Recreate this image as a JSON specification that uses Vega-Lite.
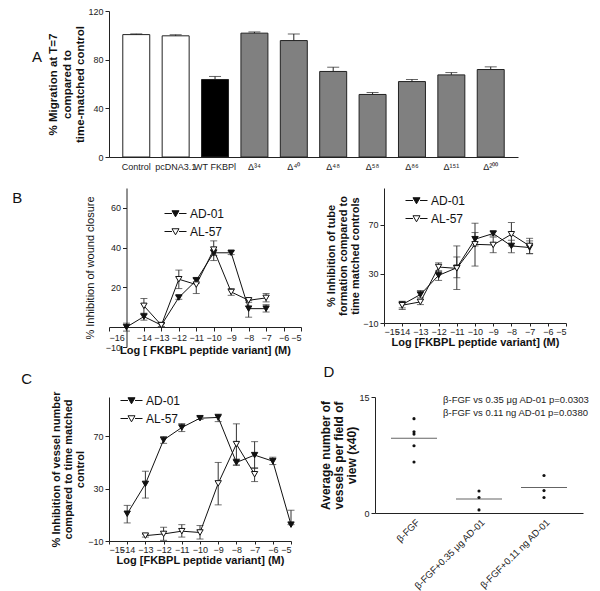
{
  "$schema": "https://vega.github.io/schema/vega-lite/v6.json",
  "background": "white",
  "padding": {"left": 12, "top": 7, "right": 4, "bottom": 2},
  "config": {
    "font": "Liberation Sans",
    "view": {"stroke": null},
    "axis": {"grid": false, "domainColor": "#222", "tickColor": "#222", "labelColor": "#222", "titleColor": "#111", "labelFontSize": 9, "tickSize": 4, "labelPadding": 2, "labelOverlap": false, "titleFontWeight": "bold", "titleFontSize": 11, "titleLineHeight": 12.3},
    "title": {"fontSize": 15, "fontWeight": "normal", "color": "#111", "anchor": "start", "frame": "bounds", "offset": 0},
    "legend": {"labelFontSize": 12, "labelColor": "#111", "padding": 0, "rowPadding": 1, "labelOffset": 3}
  },
  "datasets": {
    "bars": [
      {"cond": "Control", "type": "control", "v": 100.6, "hi": 101.2},
      {"cond": "pcDNA3.1", "type": "control", "v": 99.6, "hi": 100.5},
      {"cond": "WT FKBPl", "type": "wt", "v": 63.7, "hi": 66.2},
      {"cond": "Δ³⁴", "type": "deletion", "v": 101.8, "hi": 102.8},
      {"cond": "Δ⁴⁰", "type": "deletion", "v": 95.7, "hi": 101.1},
      {"cond": "Δ⁴⁸", "type": "deletion", "v": 70.3, "hi": 73.8},
      {"cond": "Δ⁵⁸", "type": "deletion", "v": 51.4, "hi": 53.0},
      {"cond": "Δ⁸⁶", "type": "deletion", "v": 62.0, "hi": 63.7},
      {"cond": "Δ¹⁵¹", "type": "deletion", "v": 67.5, "hi": 69.4},
      {"cond": "Δ²⁰⁰", "type": "deletion", "v": 71.9, "hi": 74.1}
    ],
    "wound": [
      {"series": "AD-01", "x": -15, "y": 0, "lo": -2, "hi": 2},
      {"series": "AD-01", "x": -14, "y": 5.3, "lo": 3.5, "hi": 7},
      {"series": "AD-01", "x": -13, "y": 1, "lo": 0, "hi": 2},
      {"series": "AD-01", "x": -12, "y": 14.9, "lo": 14, "hi": 15.8},
      {"series": "AD-01", "x": -11, "y": 23.5, "lo": 22, "hi": 25},
      {"series": "AD-01", "x": -10, "y": 37.4, "lo": 36, "hi": 39},
      {"series": "AD-01", "x": -9, "y": 37.4, "lo": 36.5, "hi": 38.3},
      {"series": "AD-01", "x": -8, "y": 9.3, "lo": 5, "hi": 13.5},
      {"series": "AD-01", "x": -7, "y": 9.3, "lo": 7.6, "hi": 11.3},
      {"series": "AL-57", "x": -14, "y": 10.7, "lo": 6.5, "hi": 14.4},
      {"series": "AL-57", "x": -13, "y": 1, "lo": 0.3, "hi": 1.7},
      {"series": "AL-57", "x": -12, "y": 24.1, "lo": 19.4, "hi": 28.7},
      {"series": "AL-57", "x": -11, "y": 21.4, "lo": 16.9, "hi": 24.5},
      {"series": "AL-57", "x": -10, "y": 39, "lo": 33.5, "hi": 43.4},
      {"series": "AL-57", "x": -9, "y": 17.7, "lo": 16, "hi": 19.4},
      {"series": "AL-57", "x": -8, "y": 13.5, "lo": 12.5, "hi": 14.5},
      {"series": "AL-57", "x": -7, "y": 14.7, "lo": 12.7, "hi": 16.9}
    ],
    "tube": [
      {"series": "AD-01", "x": -14, "y": 5.0, "lo": 1, "hi": 7.7},
      {"series": "AD-01", "x": -13, "y": 13.2, "lo": 10.5, "hi": 16.5},
      {"series": "AD-01", "x": -12, "y": 28.8, "lo": 24.7, "hi": 32.3},
      {"series": "AD-01", "x": -11, "y": 35, "lo": 26.9, "hi": 43.8},
      {"series": "AD-01", "x": -10, "y": 58.3, "lo": 52.8, "hi": 63.7},
      {"series": "AD-01", "x": -9, "y": 62.9, "lo": 61, "hi": 64.5},
      {"series": "AD-01", "x": -8, "y": 52.8, "lo": 47.3, "hi": 57.4},
      {"series": "AD-01", "x": -7, "y": 51.5, "lo": 46.5, "hi": 56.9},
      {"series": "AL-57", "x": -14, "y": 4.5, "lo": 2.3, "hi": 6.4},
      {"series": "AL-57", "x": -13, "y": 7.2, "lo": 5, "hi": 9.1},
      {"series": "AL-57", "x": -12, "y": 35.6, "lo": 32.3, "hi": 39},
      {"series": "AL-57", "x": -11, "y": 34.5, "lo": 17.3, "hi": 52.8},
      {"series": "AL-57", "x": -10, "y": 54.1, "lo": 36.4, "hi": 71.3},
      {"series": "AL-57", "x": -9, "y": 53.6, "lo": 47.3, "hi": 60},
      {"series": "AL-57", "x": -8, "y": 62.3, "lo": 52.8, "hi": 71.9},
      {"series": "AL-57", "x": -7, "y": 52.8, "lo": 46.5, "hi": 59}
    ],
    "vessel": [
      {"series": "AD-01", "x": -14, "y": 10.8, "lo": 3.8, "hi": 17.2},
      {"series": "AD-01", "x": -13, "y": 33.6, "lo": 22.8, "hi": 43.3},
      {"series": "AD-01", "x": -12, "y": 67.2, "lo": 64.6, "hi": 69.7},
      {"series": "AD-01", "x": -11, "y": 76.7, "lo": 73.6, "hi": 79.7},
      {"series": "AD-01", "x": -10, "y": 83.8, "lo": 82.8, "hi": 84.9},
      {"series": "AD-01", "x": -9, "y": 84.4, "lo": 81.2, "hi": 86.9},
      {"series": "AD-01", "x": -8, "y": 50, "lo": 47.9, "hi": 52.6},
      {"series": "AD-01", "x": -7, "y": 55.6, "lo": 45.4, "hi": 65.9},
      {"series": "AD-01", "x": -6, "y": 51, "lo": 48.4, "hi": 54},
      {"series": "AD-01", "x": -5, "y": 2.5, "lo": 2.5, "hi": 13.5},
      {"series": "AL-57", "x": -13, "y": -5.9, "lo": -7, "hi": -4.8},
      {"series": "AL-57", "x": -12, "y": -4.6, "lo": -9.5, "hi": 0.5},
      {"series": "AL-57", "x": -11, "y": -2.5, "lo": -7, "hi": 2.5},
      {"series": "AL-57", "x": -10, "y": -3.5, "lo": -8.5, "hi": 1.8},
      {"series": "AL-57", "x": -9, "y": 34, "lo": 17.6, "hi": 50},
      {"series": "AL-57", "x": -8, "y": 64, "lo": 48, "hi": 79.5},
      {"series": "AL-57", "x": -7, "y": 41, "lo": 35.4, "hi": 46}
    ],
    "vessels": [
      {"group": "β-FGF", "v": 12.2},
      {"group": "β-FGF", "v": 10.5},
      {"group": "β-FGF", "v": 10.2},
      {"group": "β-FGF", "v": 8.7},
      {"group": "β-FGF", "v": 6.6},
      {"group": "β-FGF+0.35 μg AD-01", "v": 2.85},
      {"group": "β-FGF+0.35 μg AD-01", "v": 2.0},
      {"group": "β-FGF+0.35 μg AD-01", "v": 0.4},
      {"group": "β-FGF+0.11 ng AD-01", "v": 4.85},
      {"group": "β-FGF+0.11 ng AD-01", "v": 2.9},
      {"group": "β-FGF+0.11 ng AD-01", "v": 2.0}
    ],
    "means": [
      {"group": "β-FGF", "v": 9.65},
      {"group": "β-FGF+0.35 μg AD-01", "v": 1.8},
      {"group": "β-FGF+0.11 ng AD-01", "v": 3.3}
    ]
  },
  "resolve": {"scale": {"fill": "independent"}, "legend": {"fill": "independent"}},
  "spacing": 17,
  "vconcat": [
    {
      "width": 409, "height": 146,
      "title": {"text": "A", "dx": -16, "dy": 62},
      "data": {"name": "bars"},
      "encoding": {
        "x": {"field": "cond", "type": "nominal", "sort": null, "scale": {"paddingInner": 0.315, "paddingOuter": 0.35}, "axis": {"title": null, "labelAngle": 0, "ticks": false, "labelOverlap": false, "labelPadding": 5, "labelFontSize": 9}}
      },
      "layer": [
        {"mark": {"type": "bar", "stroke": "#222", "strokeWidth": 1},
         "encoding": {
           "y": {"field": "v", "type": "quantitative", "scale": {"domain": [0, 120]}, "axis": {"values": [0, 20, 40, 60, 80, 100, 120], "title": ["% Migration at T=7", "compared to", "time-matched control"], "titleFontSize": 11.5, "titleLineHeight": 13.5, "titlePadding": 2}},
           "fill": {"field": "type", "type": "nominal", "scale": {"domain": ["control", "wt", "deletion"], "range": ["#ffffff", "#000000", "#808080"]}, "legend": null}
         }},
        {"mark": {"type": "rule", "color": "#222"}, "encoding": {"y": {"field": "v", "type": "quantitative"}, "y2": {"field": "hi"}}},
        {"mark": {"type": "tick", "orient": "horizontal", "color": "#222", "size": 12, "thickness": 1}, "encoding": {"y": {"field": "hi", "type": "quantitative"}}}
      ]
    },
    {
      "spacing": 10,
      "resolve": {"scale": {"fill": "independent"}, "legend": {"fill": "independent"}},
      "vconcat": [
        {
          "hconcat": [
            {
              "width": 192, "height": 159,
              "title": {"text": "B", "dx": -72, "dy": 22},
              "data": {"name": "wound"},
              "encoding": {"x": {"field": "x", "type": "quantitative", "scale": {"domain": [-16, -5], "nice": false, "zero": false}, "axis": {"values": [-16, -14, -13, -12, -11, -10, -9, -8, -7, -6, -5], "offset": -20, "title": "Log [ FKBPL peptide variant] (M)", "titlePadding": 2}}},
              "layer": [
                {"mark": {"type": "rule", "color": "#333"}, "encoding": {"y": {"field": "lo", "type": "quantitative", "scale": {"domain": [-10, 70], "nice": false}, "axis": {"values": [-10, 10, 20, 30, 40, 50, 60, 70], "offset": -17.5, "title": "% Inhibition of wound closure", "titleFontWeight": "normal", "titleFontSize": 11, "titlePadding": 10}}, "y2": {"field": "hi"}}},
                {"mark": {"type": "tick", "orient": "horizontal", "color": "#333", "size": 7, "thickness": 1}, "encoding": {"y": {"field": "lo", "type": "quantitative"}}},
                {"mark": {"type": "tick", "orient": "horizontal", "color": "#333", "size": 7, "thickness": 1}, "encoding": {"y": {"field": "hi", "type": "quantitative"}}},
                {"mark": {"type": "line", "color": "#111", "strokeWidth": 1}, "encoding": {"y": {"field": "y", "type": "quantitative"}, "detail": {"field": "series"}}},
                {"mark": {"type": "point", "shape": "triangle-down", "size": 40, "filled": true, "stroke": "#111", "strokeWidth": 1, "opacity": 1},
                 "encoding": {"y": {"field": "y", "type": "quantitative"},
                   "fill": {"field": "series", "type": "nominal", "scale": {"domain": ["AD-01", "AL-57"], "range": ["#111111", "#ffffff"]},
                     "legend": {"title": null, "orient": "none", "legendX": 55, "legendY": 14, "symbolType": "M-1,0L-0.32,0M0.32,0L1,0M-0.32,-0.25L0.32,-0.25L0,0.3Z", "symbolSize": 484, "symbolStrokeColor": "#111", "symbolStrokeWidth": 1, "rowPadding": -11}}}}
              ]
            },
            {
              "width": 182, "height": 135,
              "data": {"name": "tube"},
              "encoding": {"x": {"field": "x", "type": "quantitative", "scale": {"domain": [-15, -5], "nice": false, "zero": false}, "axis": {"values": [-15, -14, -13, -12, -11, -10, -9, -8, -7, -6, -5], "title": "Log [FKBPL peptide variant] (M)", "titlePadding": 0, "tickSize": 3, "labelPadding": 1}}},
              "layer": [
                {"mark": {"type": "rule", "color": "#333"}, "encoding": {"y": {"field": "lo", "type": "quantitative", "scale": {"domain": [-10, 100], "nice": false}, "axis": {"values": [-10, 0, 10, 20, 30, 40, 50, 60, 70, 80, 90, 100], "title": ["% Inhibition of tube", "formation compared to", "time matched controls"], "titlePadding": 2}}, "y2": {"field": "hi"}}},
                {"mark": {"type": "tick", "orient": "horizontal", "color": "#333", "size": 7, "thickness": 1}, "encoding": {"y": {"field": "lo", "type": "quantitative"}}},
                {"mark": {"type": "tick", "orient": "horizontal", "color": "#333", "size": 7, "thickness": 1}, "encoding": {"y": {"field": "hi", "type": "quantitative"}}},
                {"mark": {"type": "line", "color": "#111", "strokeWidth": 1}, "encoding": {"y": {"field": "y", "type": "quantitative"}, "detail": {"field": "series"}}},
                {"mark": {"type": "point", "shape": "triangle-down", "size": 40, "filled": true, "stroke": "#111", "strokeWidth": 1, "opacity": 1},
                 "encoding": {"y": {"field": "y", "type": "quantitative"},
                   "fill": {"field": "series", "type": "nominal", "scale": {"domain": ["AD-01", "AL-57"], "range": ["#111111", "#ffffff"]},
                     "legend": {"title": null, "orient": "none", "legendX": 21, "legendY": 1, "symbolType": "M-1,0L-0.32,0M0.32,0L1,0M-0.32,-0.25L0.32,-0.25L0,0.3Z", "symbolSize": 484, "symbolStrokeColor": "#111", "symbolStrokeWidth": 1, "rowPadding": -8}}}}
              ]
            }
          ],
          "spacing": 23,
          "resolve": {"scale": {"fill": "independent"}, "legend": {"fill": "independent"}}
        },
        {
          "hconcat": [
            {
              "width": 182, "height": 144,
              "title": {"text": "C", "dx": -29, "dy": 2},
              "data": {"name": "vessel"},
              "encoding": {"x": {"field": "x", "type": "quantitative", "scale": {"domain": [-15, -5], "nice": false, "zero": false}, "axis": {"values": [-15, -14, -13, -12, -11, -10, -9, -8, -7, -6, -5], "title": "Log [FKBPL peptide variant] (M)", "titlePadding": 0, "tickSize": 3, "labelPadding": 1}}},
              "layer": [
                {"mark": {"type": "rule", "color": "#333"}, "encoding": {"y": {"field": "lo", "type": "quantitative", "scale": {"domain": [-10, 100], "nice": false}, "axis": {"values": [-10, 0, 10, 20, 30, 40, 50, 60, 70, 80, 90, 100], "title": ["% Inhibition of vessel number", "compared to time matched", "control"], "titlePadding": 2}}, "y2": {"field": "hi"}}},
                {"mark": {"type": "tick", "orient": "horizontal", "color": "#333", "size": 7, "thickness": 1}, "encoding": {"y": {"field": "lo", "type": "quantitative"}}},
                {"mark": {"type": "tick", "orient": "horizontal", "color": "#333", "size": 7, "thickness": 1}, "encoding": {"y": {"field": "hi", "type": "quantitative"}}},
                {"mark": {"type": "line", "color": "#111", "strokeWidth": 1}, "encoding": {"y": {"field": "y", "type": "quantitative"}, "detail": {"field": "series"}}},
                {"mark": {"type": "point", "shape": "triangle-down", "size": 40, "filled": true, "stroke": "#111", "strokeWidth": 1, "opacity": 1},
                 "encoding": {"y": {"field": "y", "type": "quantitative"},
                   "fill": {"field": "series", "type": "nominal", "scale": {"domain": ["AD-01", "AL-57"], "range": ["#111111", "#ffffff"]},
                     "legend": {"title": null, "orient": "none", "legendX": 11, "legendY": -8, "symbolType": "M-1,0L-0.32,0M0.32,0L1,0M-0.32,-0.25L0.32,-0.25L0,0.3Z", "symbolSize": 484, "symbolStrokeColor": "#111", "symbolStrokeWidth": 1, "rowPadding": -8}}}}
              ]
            },
            {
              "width": 208, "height": 116,
              "title": {"text": "D", "dx": 4, "dy": -9},
              "layer": [
                {"data": {"name": "vessels"}, "mark": {"type": "circle", "size": 10, "color": "#111", "opacity": 1},
                 "encoding": {
                   "x": {"field": "group", "type": "nominal", "sort": ["β-FGF", "β-FGF+0.35 μg AD-01", "β-FGF+0.11 ng AD-01"], "scale": {"type": "point", "padding": 0.6}, "axis": {"title": null, "labelAngle": -45, "ticks": false, "labelFontSize": 9.5, "labelPadding": 4}},
                   "y": {"field": "v", "type": "quantitative", "scale": {"domain": [0, 15], "nice": false}, "axis": {"values": [0, 5, 10, 15], "title": ["Average number of", "vessels per field of", "view (x40)"], "titleFontSize": 12, "titleLineHeight": 13.3, "titlePadding": 0}}
                 }},
                {"data": {"name": "means"}, "mark": {"type": "tick", "orient": "horizontal", "size": 46, "thickness": 1, "color": "#222"},
                 "encoding": {
                   "x": {"field": "group", "type": "nominal", "sort": ["β-FGF", "β-FGF+0.35 μg AD-01", "β-FGF+0.11 ng AD-01"]},
                   "y": {"field": "v", "type": "quantitative"}
                 }},
                {"data": {"values": [{}]}, "mark": {"type": "text", "text": ["β-FGF vs 0.35 μg AD-01 p=0.0303", "β-FGF vs 0.11 ng AD-01 p=0.0380"], "lineHeight": 12.5, "align": "left", "baseline": "top", "fontSize": 9.5, "color": "#222", "dx": -36, "dy": -2},
                 "encoding": {
                   "x": {"datum": "β-FGF+0.35 μg AD-01", "type": "nominal"},
                   "y": {"datum": 15, "type": "quantitative"}
                 }}
              ]
            }
          ],
          "spacing": 22,
          "resolve": {"scale": {"fill": "independent"}, "legend": {"fill": "independent"}}
        }
      ]
    }
  ]
}
